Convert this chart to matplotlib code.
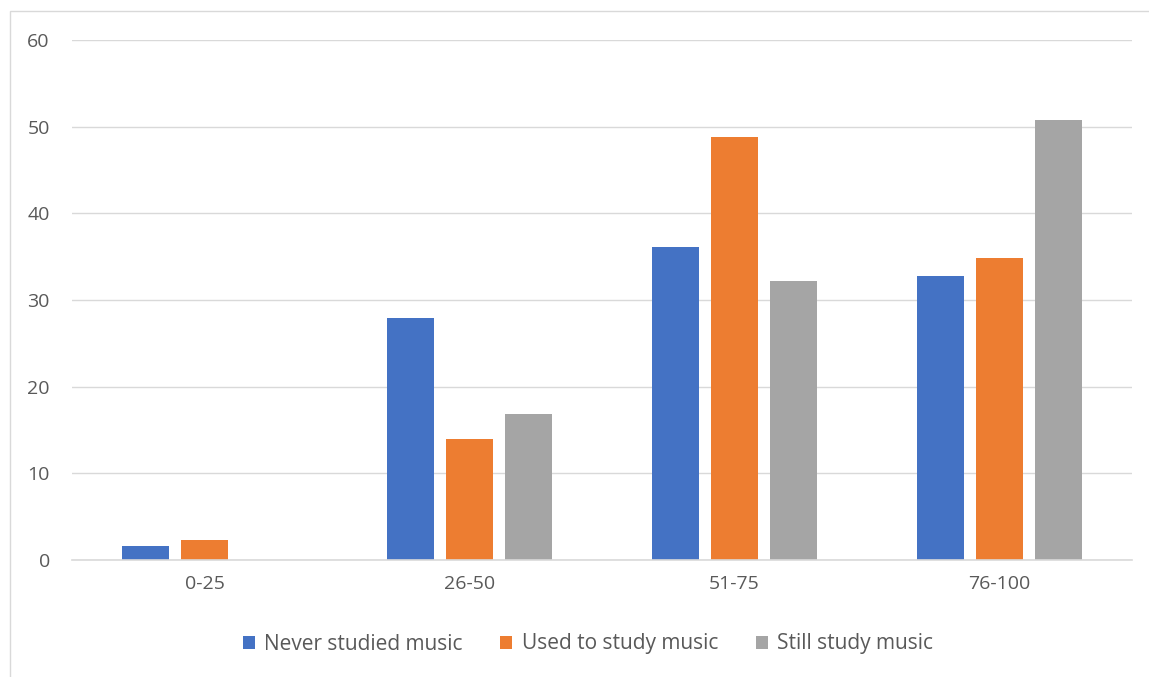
import numpy as np
import matplotlib
matplotlib.use('Agg')
from matplotlib import pyplot as plt
from matplotlib.patches import Rectangle

plt.rcParams['font.family'] = ['Open Sans', 'DejaVu Sans']

# score ranges and percentages per group
ranges = ['0-25', '26-50', '51-75', '76-100']
never_studied = [1.6, 27.9, 36.1, 32.8]
used_to_study = [2.3, 14.0, 48.8, 34.8]
still_study = [0, 16.8, 32.2, 50.8]

series = [
    ('Never studied music', never_studied, '#4472C4'),
    ('Used to study music', used_to_study, '#ED7D31'),
    ('Still study music', still_study, '#A5A5A5'),
]

txt = '#595959'
grid = '#D9D9D9'


def main():
    W, H = 1149, 677
    fig = plt.figure(figsize=(W / 100, H / 100), dpi=100)

    # thin chart-area border
    fig.patches.append(Rectangle((10 / W, -0.1), 1.2, (H - 11) / H + 0.1,
                                 transform=fig.transFigure, fill=False,
                                 edgecolor=grid, linewidth=1.0))

    ax = fig.add_axes([72 / W, 117 / H, 1060 / W, 520 / H])
    xs = np.arange(len(ranges))
    width = 0.177
    step = 0.221
    for i, (name, vals, col) in enumerate(series):
        ax.bar(xs + (i - 1) * step, vals, width, color=col, label=name, zorder=3)

    ax.set_xlim(-0.5, len(ranges) - 0.5)
    ax.set_ylim(0, 60)
    ax.set_yticks(range(0, 61, 10))
    ax.set_xticks(xs)
    ax.set_xticklabels(ranges)
    ax.yaxis.grid(True, color=grid, linewidth=1.0, zorder=0)
    for s in ['top', 'right', 'left']:
        ax.spines[s].set_visible(False)
    ax.spines['bottom'].set_color(grid)
    ax.spines['bottom'].set_linewidth(1.2)
    ax.spines['bottom'].set_zorder(4)
    ax.tick_params(axis='both', length=0, colors=txt, labelsize=14)
    ax.tick_params(axis='y', pad=16)
    ax.tick_params(axis='x', pad=11)

    # legend sits under the plot, centred on the plot area
    fig.legend(loc='center', bbox_to_anchor=(588 / W, 1 - 644 / H), ncol=3,
               frameon=False, fontsize=15, labelcolor=txt,
               handlelength=0.58, handleheight=0.58, handletextpad=0.45,
               columnspacing=1.8)

    fig.savefig('out.png', dpi=100)


if __name__ == '__main__':
    main()
